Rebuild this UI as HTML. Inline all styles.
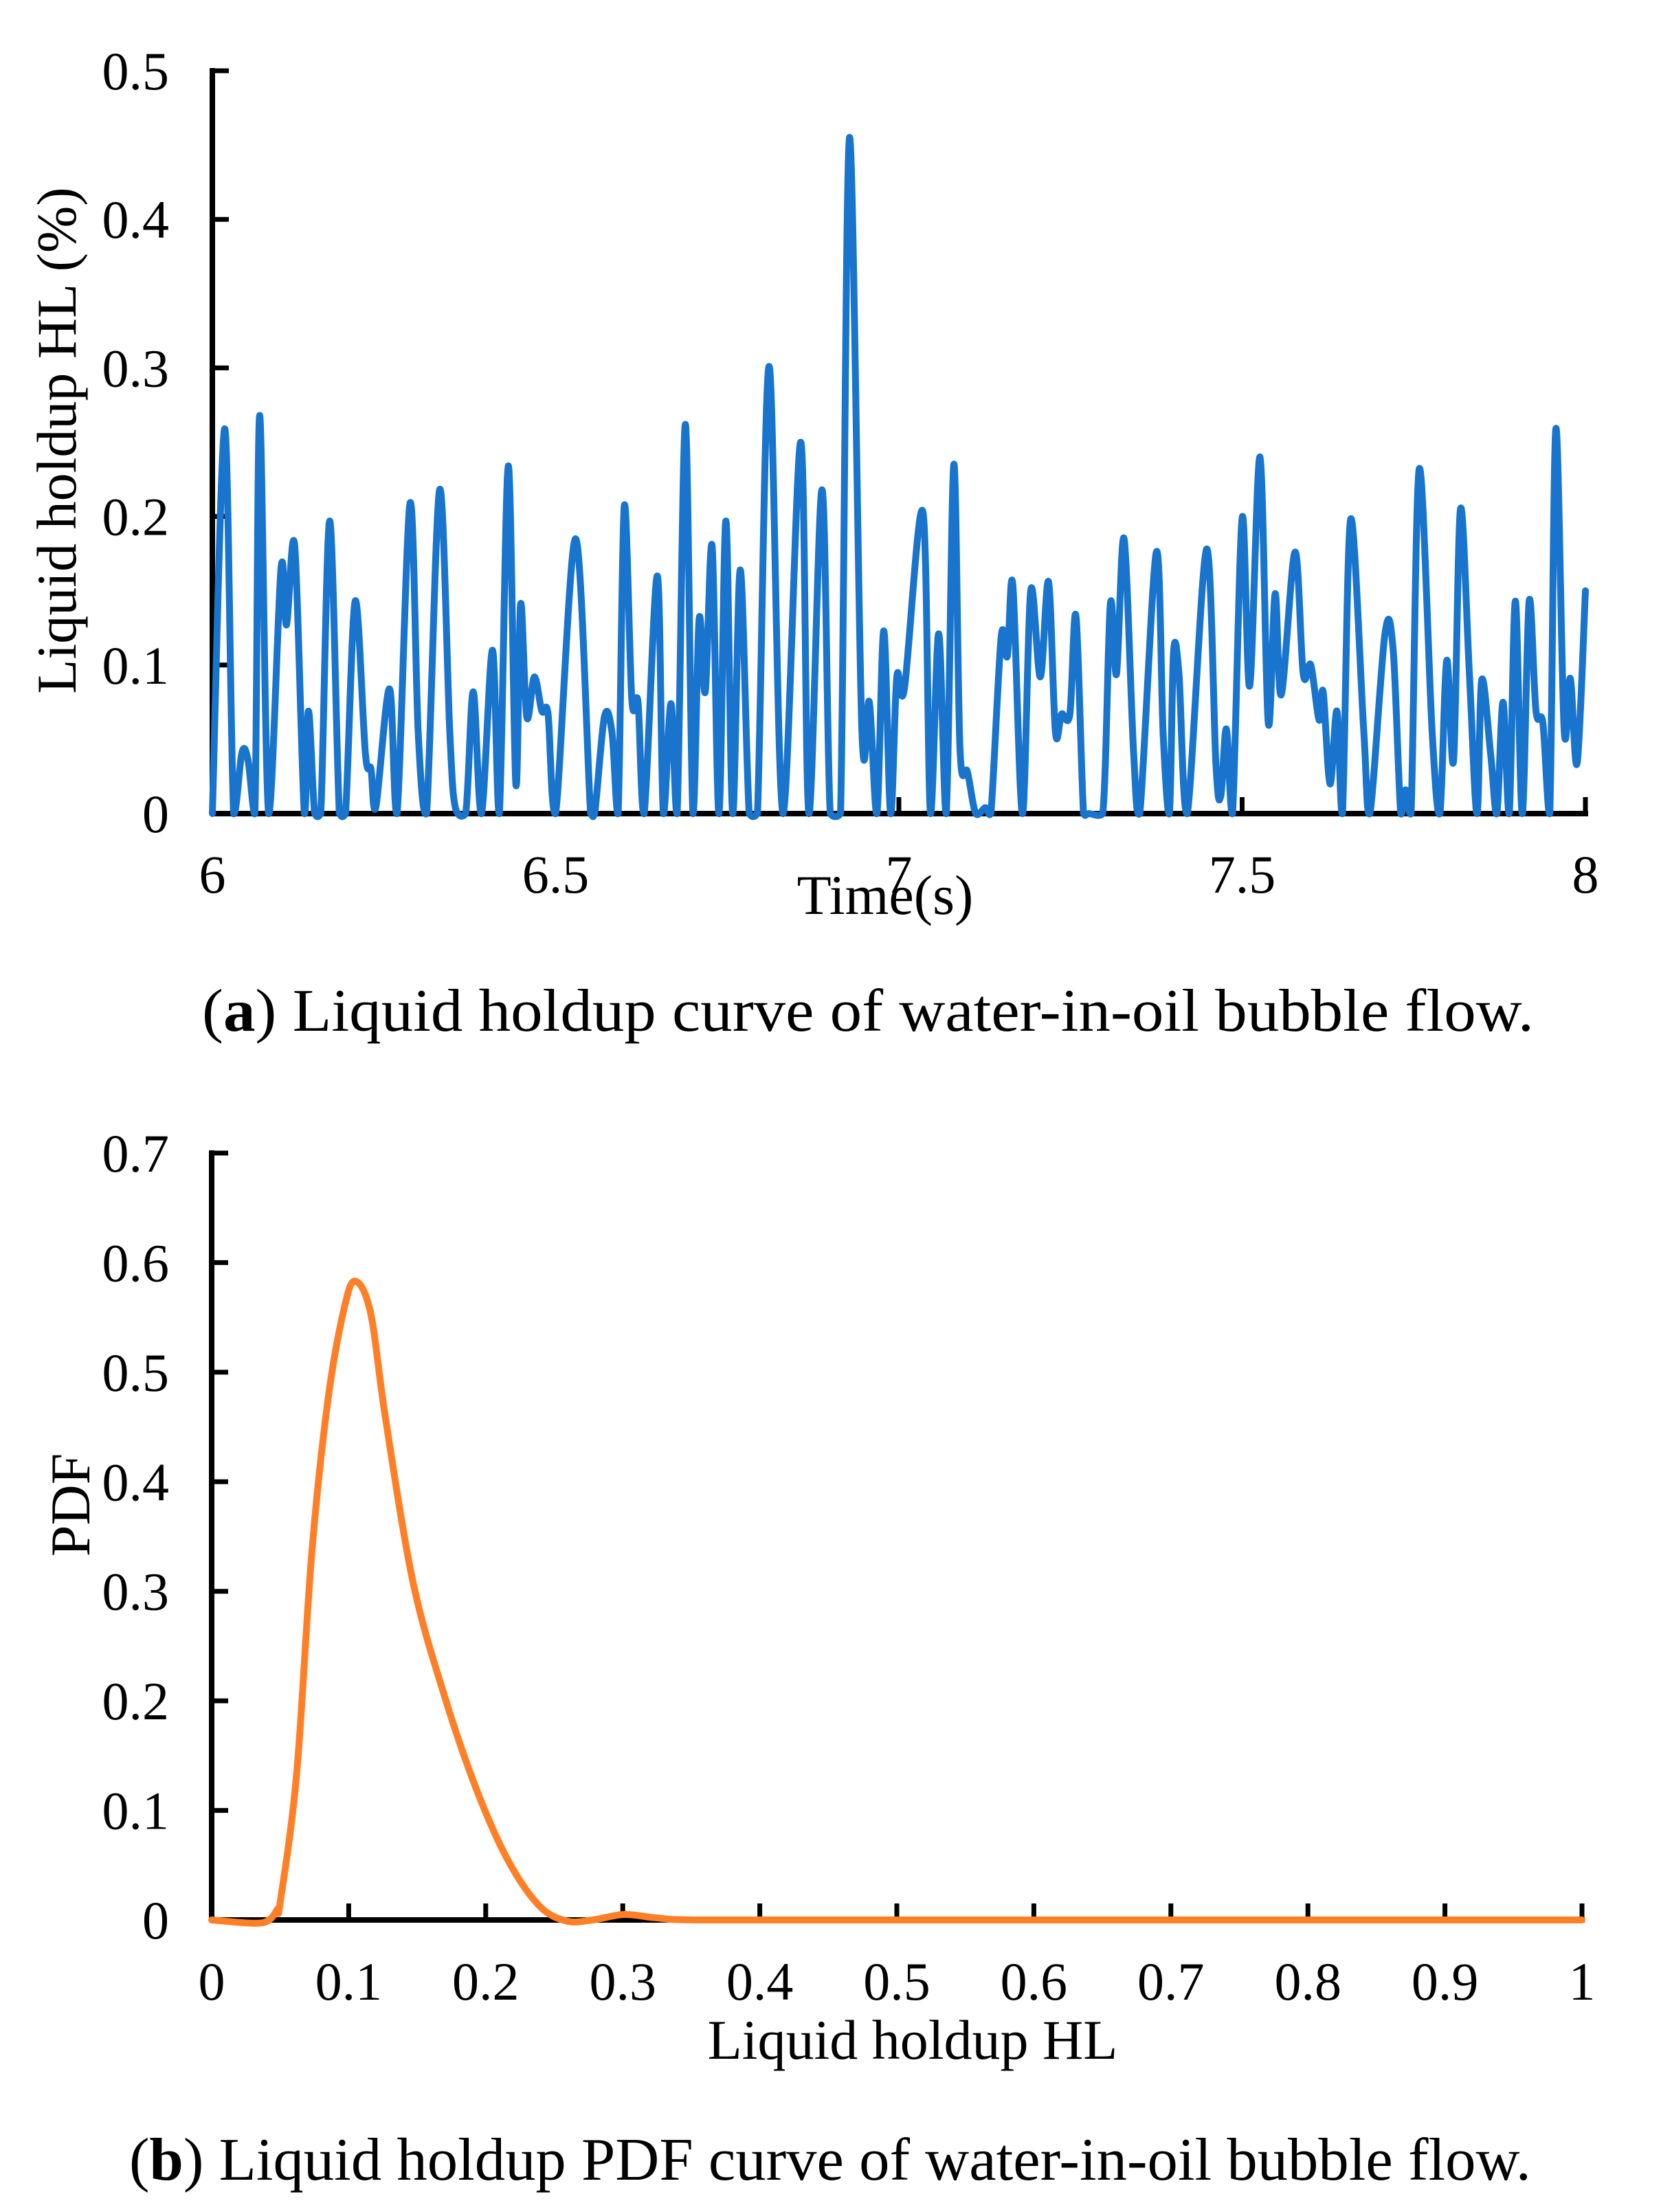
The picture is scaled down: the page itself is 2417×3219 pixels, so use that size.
<!DOCTYPE html>
<html><head><meta charset="utf-8"><style>
html,body{margin:0;padding:0;background:#fff;}
svg{display:block;font-family:"Liberation Serif",serif;}
</style></head><body>
<svg id="fig" width="2417" height="3219" viewBox="0 0 2417 3219" xmlns="http://www.w3.org/2000/svg">
<g id="chartA"></g>
<text x="1263" y="1500" font-size="88" text-anchor="middle" textLength="1938" lengthAdjust="spacingAndGlyphs">(<tspan font-weight="bold">a</tspan>) Liquid holdup curve of water-in-oil bubble flow.</text>
<g id="chartB"></g>
<text x="1208" y="3172" font-size="88" text-anchor="middle" textLength="2040" lengthAdjust="spacingAndGlyphs">(<tspan font-weight="bold">b</tspan>) Liquid holdup PDF curve of water-in-oil bubble flow.</text>
</svg>
<script>
const timeValues=[6.000,6.018,6.031,6.043,6.052,6.062,6.069,6.082,6.100,6.108,6.120,6.134,6.140,6.149,6.158,6.171,6.185,6.194,6.208,6.223,6.231,6.238,6.258,6.269,6.288,6.300,6.312,6.331,6.346,6.354,6.369,6.380,6.392,6.408,6.418,6.431,6.442,6.449,6.458,6.469,6.480,6.489,6.500,6.529,6.551,6.557,6.571,6.582,6.591,6.600,6.611,6.620,6.629,6.648,6.657,6.668,6.677,6.689,6.700,6.709,6.718,6.728,6.738,6.748,6.758,6.769,6.782,6.794,6.811,6.831,6.857,6.869,6.888,6.900,6.915,6.928,6.946,6.957,6.968,6.978,6.988,6.997,7.008,7.035,7.046,7.058,7.069,7.080,7.089,7.100,7.112,7.126,7.134,7.149,7.158,7.166,7.180,7.192,7.206,7.218,7.228,7.237,7.249,7.258,7.269,7.277,7.297,7.308,7.317,7.328,7.342,7.351,7.375,7.385,7.394,7.400,7.408,7.420,7.448,7.462,7.469,7.477,7.486,7.500,7.511,7.526,7.538,7.548,7.557,7.577,7.589,7.600,7.612,7.618,7.628,7.638,7.646,7.658,7.677,7.686,7.708,7.720,7.731,7.738,7.746,7.758,7.777,7.788,7.798,7.808,7.818,7.831,7.842,7.849,7.862,7.871,7.880,7.889,7.898,7.908,7.918,7.928,7.938,7.948,7.957,7.969,7.978,7.988,8.000];
const holdupValues=[0,0.259,0,0.041,0.036,0,0.268,0,0.165,0.127,0.18,0,0.069,0,0,0.197,0,0,0.143,0.04,0.03,0.004,0.084,0,0.209,0.053,0,0.218,0.053,0.004,0,0.082,0,0.11,0,0.234,0.02,0.141,0.065,0.092,0.069,0.067,0,0.185,0,0,0.065,0.055,0,0.207,0.077,0.075,0,0.16,0,0.074,0,0.262,0,0.131,0.082,0.18,0,0.197,0,0.164,0,0,0.301,0,0.25,0,0.218,0,0,0.455,0.057,0.075,0,0.123,0,0.092,0.084,0.203,0,0.121,0,0.235,0.044,0.028,0,0.004,0,0.119,0.106,0.154,0,0.15,0.092,0.156,0.055,0.067,0.067,0.133,0,0,0,0.141,0.094,0.185,0.04,0,0.176,0.053,0,0.108,0.094,0,0.178,0.032,0.012,0.057,0,0.199,0.086,0.24,0.061,0.148,0.08,0.176,0.094,0.1,0.063,0.082,0.02,0.069,0,0.198,0.057,0,0.121,0.11,0,0.016,0,0.232,0.053,0,0.103,0.036,0.205,0.094,0,0.09,0.04,0,0.075,0,0.143,0,0.143,0.069,0.061,0,0.259,0.057,0.091,0.034,0.15];
const xTicksA=[6,6.5,7,7.5,8];
const xTickLabelsA=["6","6.5","7","7.5","8"];
const yTicksA=[0,0.1,0.2,0.3,0.4,0.5];
const yTickLabelsA=["0","0.1","0.2","0.3","0.4","0.5"];

const pdfX=[0,0.031,0.042,0.048,0.05,0.062,0.073,0.085,0.097,0.105,0.116,0.127,0.147,0.17,0.193,0.216,0.239,0.259,0.278,0.301,0.324,0.355,0.5,0.7,1.0];
const pdfY=[0,-0.003,0,0.01,0.016,0.133,0.334,0.476,0.56,0.583,0.554,0.457,0.308,0.204,0.12,0.055,0.013,-0.001,0,0.005,0.002,0,0,0,0];
const xTicksB=[0,0.1,0.2,0.3,0.4,0.5,0.6,0.7,0.8,0.9,1];
const xTickLabelsB=["0","0.1","0.2","0.3","0.4","0.5","0.6","0.7","0.8","0.9","1"];
const yTicksB=[0,0.1,0.2,0.3,0.4,0.5,0.6,0.7];
const yTickLabelsB=["0","0.1","0.2","0.3","0.4","0.5","0.6","0.7"];

const NS="http://www.w3.org/2000/svg";
function mk(parent,tag,attrs){const e=document.createElementNS(NS,tag);for(const k in attrs)e.setAttribute(k,attrs[k]);parent.appendChild(e);return e;}

function smooth(P,floorY){
  const cl=y=>(floorY===undefined?y:Math.min(y,floorY));
  let d='M'+P[0][0].toFixed(1)+','+P[0][1].toFixed(1);
  for(let i=0;i<P.length-1;i++){
    const p0=P[Math.max(0,i-1)],p1=P[i],p2=P[i+1],p3=P[Math.min(P.length-1,i+2)];
    const c1=[p1[0]+(p2[0]-p0[0])/6,cl(p1[1]+(p2[1]-p0[1])/6)];
    const c2=[p2[0]-(p3[0]-p1[0])/6,cl(p2[1]-(p3[1]-p1[1])/6)];
    d+='C'+c1[0].toFixed(1)+','+c1[1].toFixed(1)+' '+c2[0].toFixed(1)+','+c2[1].toFixed(1)+' '+p2[0].toFixed(1)+','+p2[1].toFixed(1);
  }
  return d;
}

function axes(g,xs,ys,xT,xL,yT,yL,x0,x1,y0,y1,xLabelY,tag){
  const ax=mk(g,'line',{x1:xs(x0),y1:ys(y0),x2:xs(x1)+4,y2:ys(y0),stroke:'#000','stroke-width':8});
  
  
  const ay=mk(g,'line',{x1:xs(x0),y1:ys(y0),x2:xs(x0),y2:ys(y1)-4,stroke:'#000','stroke-width':8});
  
  
  xT.forEach((v,i)=>{
    if(i>0){const t=mk(g,'line',{x1:xs(v),y1:ys(y0),x2:xs(v),y2:ys(y0)-24,stroke:'#000','stroke-width':7});
    
    }
    const l=mk(g,'text',{x:xs(v),y:xLabelY,'font-size':78,'text-anchor':'middle'});l.textContent=xL[i];
    
    
  });
  yT.forEach((v,i)=>{
    if(i>0){const t=mk(g,'line',{x1:xs(x0),y1:ys(v),x2:xs(x0)+24,y2:ys(v),stroke:'#000','stroke-width':7});
    
    }
    const l=mk(g,'text',{x:246,y:ys(v)+27,'font-size':78,'text-anchor':'end'});l.textContent=yL[i];
    
    
  });
}

// Chart A
(function(){
  const g=document.getElementById('chartA');
  const xs=v=>309+(v-6)/2*1998;
  const ys=v=>1184-v/0.5*1081;
  axes(g,xs,ys,xTicksA,xTickLabelsA,yTicksA,yTickLabelsA,6,8,0,0.5,1299,'top');
  const P=timeValues.map((t,i)=>[xs(t),ys(holdupValues[i])]);
  const p=mk(g,'path',{d:smooth(P,ys(0)+6),fill:'none',stroke:'#1874CD','stroke-width':10,'stroke-linejoin':'round','stroke-linecap':'round'});
  
  
  const xl=mk(g,'text',{x:1288,y:1330,'font-size':82,'text-anchor':'middle'});xl.textContent='Time(s)';
  
  
  const yl=mk(g,'text',{x:0,y:0,'font-size':82,'text-anchor':'middle',transform:'translate(110,641) rotate(-90)'});yl.textContent='Liquid holdup HL (%)';
  
  
})();

// Chart B
(function(){
  const g=document.getElementById('chartB');
  const xs=v=>308+v*1994;
  const ys=v=>2794-v/0.7*1116;
  axes(g,xs,ys,xTicksB,xTickLabelsB,yTicksB,yTickLabelsB,0,1,0,0.7,2910,'bottom');
  const P=pdfX.map((x,i)=>[xs(x),ys(pdfY[i])]);
  const p=mk(g,'path',{d:smooth(P),fill:'none',stroke:'#FF7F27','stroke-width':10,'stroke-linejoin':'round','stroke-linecap':'round'});
  
  
  const xl=mk(g,'text',{x:1328,y:2996,'font-size':82,'text-anchor':'middle'});xl.textContent='Liquid holdup HL';
  
  
  const yl=mk(g,'text',{x:0,y:0,'font-size':82,'text-anchor':'middle',transform:'translate(130,2190) rotate(-90)'});yl.textContent='PDF';
  
  
})();
</script>
</body></html>
